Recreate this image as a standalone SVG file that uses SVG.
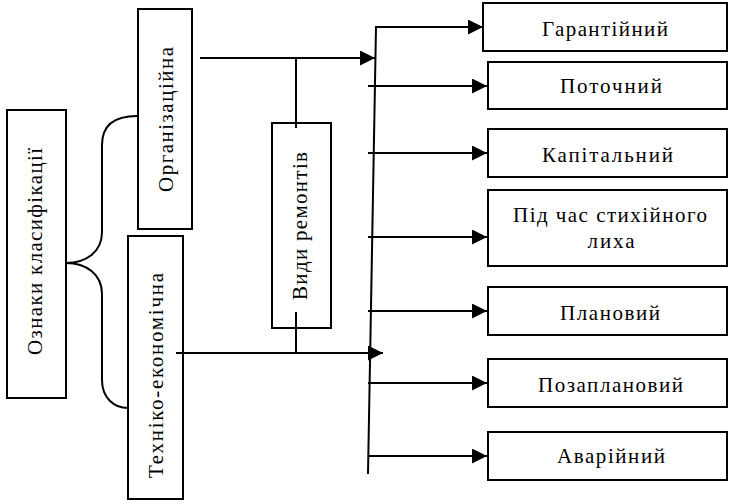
<svg xmlns="http://www.w3.org/2000/svg" width="729" height="504" viewBox="0 0 729 504">
<style>
rect{fill:#fff;stroke:#000;stroke-width:2}
.c{fill:none;stroke:#000;stroke-width:2}
.t{font-family:'Liberation Serif','Times New Roman',serif;font-size:21px;fill:#000;text-anchor:middle}
</style>
<defs>
<marker id="a" markerUnits="userSpaceOnUse" markerWidth="16" markerHeight="16" refX="15" refY="7.5" orient="auto">
<path d="M0,0 L15,7.5 L0,15 z" fill="#000"/>
</marker>
</defs>
<g id="n-oznaky"><rect x="7" y="110" width="59" height="288"/><text class="t" transform="translate(42,251.5) rotate(-90)" textLength="207" lengthAdjust="spacing">Ознаки класифікації</text></g>
<g id="n-org"><rect x="138" y="9" width="54" height="220"/><text class="t" transform="translate(173,119.5) rotate(-90)" textLength="145" lengthAdjust="spacing">Організаційна</text></g>
<g id="n-tech"><rect x="128" y="236" width="55" height="263"/><text class="t" transform="translate(163,375.5) rotate(-90)" textLength="205" lengthAdjust="spacing">Техніко-економічна</text></g>
<g id="n-vydy"><rect x="272" y="123" width="59" height="205"/><text class="t" transform="translate(307,226) rotate(-90)" textLength="148" lengthAdjust="spacing">Види ремонтів</text></g>
<g id="n-g"><rect x="483" y="3" width="244" height="48"/><text class="t" x="605" y="36" textLength="126" lengthAdjust="spacing">Гарантійний</text></g>
<g id="n-p"><rect x="488" y="62" width="239" height="47"/><text class="t" x="611" y="93" textLength="102" lengthAdjust="spacing">Поточний</text></g>
<g id="n-k"><rect x="488" y="129" width="239" height="48"/><text class="t" x="607.5" y="162" textLength="131" lengthAdjust="spacing">Капітальний</text></g>
<g id="n-s"><rect x="488" y="190" width="239" height="76"/><text class="t" x="610" y="222" textLength="194" lengthAdjust="spacing">Під час стихійного</text><text class="t" x="611" y="248" textLength="47" lengthAdjust="spacing">лиха</text></g>
<g id="n-pl"><rect x="488" y="287" width="239" height="48"/><text class="t" x="610" y="320" textLength="100" lengthAdjust="spacing">Плановий</text></g>
<g id="n-pz"><rect x="488" y="359" width="239" height="48"/><text class="t" x="610.5" y="392" textLength="145" lengthAdjust="spacing">Позаплановий</text></g>
<g id="n-av"><rect x="488" y="432" width="239" height="48"/><text class="t" x="611" y="463" textLength="108" lengthAdjust="spacing">Аварійний</text></g>
<g id="connectors">
<path class="c" d="M137,116 C115,116 102,125 102,145 L102,232 C102,252 86,263 66,263"/>
<path class="c" d="M66,263 C86,263 102,274 102,294 L102,380 C102,398 114,408 128,408"/>
<path class="c" d="M200,58 L375,58" marker-end="url(#a)"/>
<path class="c" d="M296,58 L296,128"/>
<path class="c" d="M176,353 L383,353" marker-end="url(#a)"/>
<path class="c" d="M296,312 L296,353"/>
<path class="c" d="M368,474 L376,27 L483,27" marker-end="url(#a)"/>
<path class="c" d="M368,86 L487,86" marker-end="url(#a)"/>
<path class="c" d="M368,153 L487,153" marker-end="url(#a)"/>
<path class="c" d="M368,237 L487,237" marker-end="url(#a)"/>
<path class="c" d="M368,311 L487,311" marker-end="url(#a)"/>
<path class="c" d="M368,383 L487,383" marker-end="url(#a)"/>
<path class="c" d="M368,456 L487,456" marker-end="url(#a)"/>
</g>
</svg>
